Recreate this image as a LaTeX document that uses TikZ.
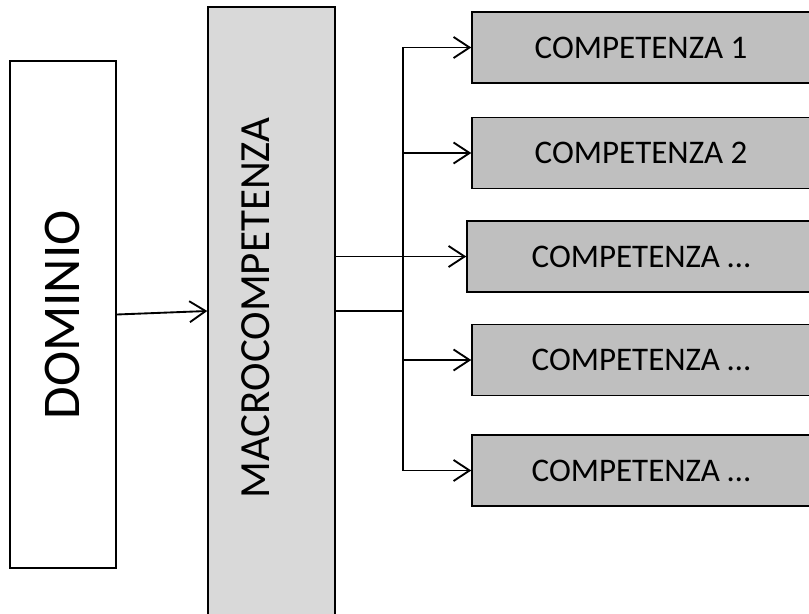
\documentclass[tikz,border=0pt]{standalone}
\usepackage{fontspec}
\setmainfont{Carlito}
\usetikzlibrary{arrows.meta,positioning}
\tikzstyle{dombox}=[rectangle,draw=black,line width=1.1pt,fill=white,minimum width=79.5pt,minimum height=380.25pt,inner sep=0pt]
\tikzstyle{macrobox}=[rectangle,draw=black,line width=1.1pt,fill=black!15,minimum width=95.25pt,minimum height=456pt,inner sep=0pt]
\tikzstyle{compbox}=[rectangle,draw=black,line width=1.1pt,fill=black!25,minimum width=253.5pt,minimum height=53.25pt,inner sep=0pt,font=\fontsize{24.75}{28}\selectfont]
\tikzstyle{link}=[line width=1.5pt]
\tikzstyle{arr}=[line width=1.4pt,-{Straight Barb[length=12pt,width=15.75pt,line width=1.4pt]}]

\begin{document}
\begin{tikzpicture}[x=0.75pt,y=-0.75pt]
            \useasboundingbox (0,0) rectangle (809,613);
            \clip (0,0) rectangle (809,613);

            % DOMINIO PART

            \node[dombox] (dom) at (63,314.5) {};
            \node[rotate=90,font=\fontsize{39.75}{44}\selectfont] (domtxt) at (62,315) {DOMINIO};

            % MACROCOMPETENZA PART

            \node[macrobox] (macro) at (271.5,311) {};
            \node[rotate=90,font=\fontsize{32.25}{36}\selectfont] (macrotxt) at (256,308) {MACROCOMPETENZA};

            \path[arr] (dom.east) edge node {} (macro.west);

            % COMPETENZE PART

            \node[compbox] (c1) at (641,47.5) {COMPETENZA 1};
            \node[compbox] (c2) at (641,153) {COMPETENZA 2};
            \node[compbox,minimum width=261pt] (c3) at (641,256.5) {COMPETENZA \dots};
            \node[compbox] (c4) at (641,360) {COMPETENZA \dots};
            \node[compbox] (c5) at (641,470.5) {COMPETENZA \dots};

            % Connections

            \coordinate (tr) at (403,0);
            \draw[link] (tr |- c1.west) -- (tr |- c5.west);
            \draw[link] (macro.east) -- (tr |- macro.east);
            \path[arr] (macro.east |- c3.west) edge node {} (c3.west);
            \path[arr] (tr |- c1.west) edge node {} (c1.west);
            \path[arr] (tr |- c2.west) edge node {} (c2.west);
            \path[arr] (tr |- c4.west) edge node {} (c4.west);
            \path[arr] (tr |- c5.west) edge node {} (c5.west);

\end{tikzpicture}
\end{document}
